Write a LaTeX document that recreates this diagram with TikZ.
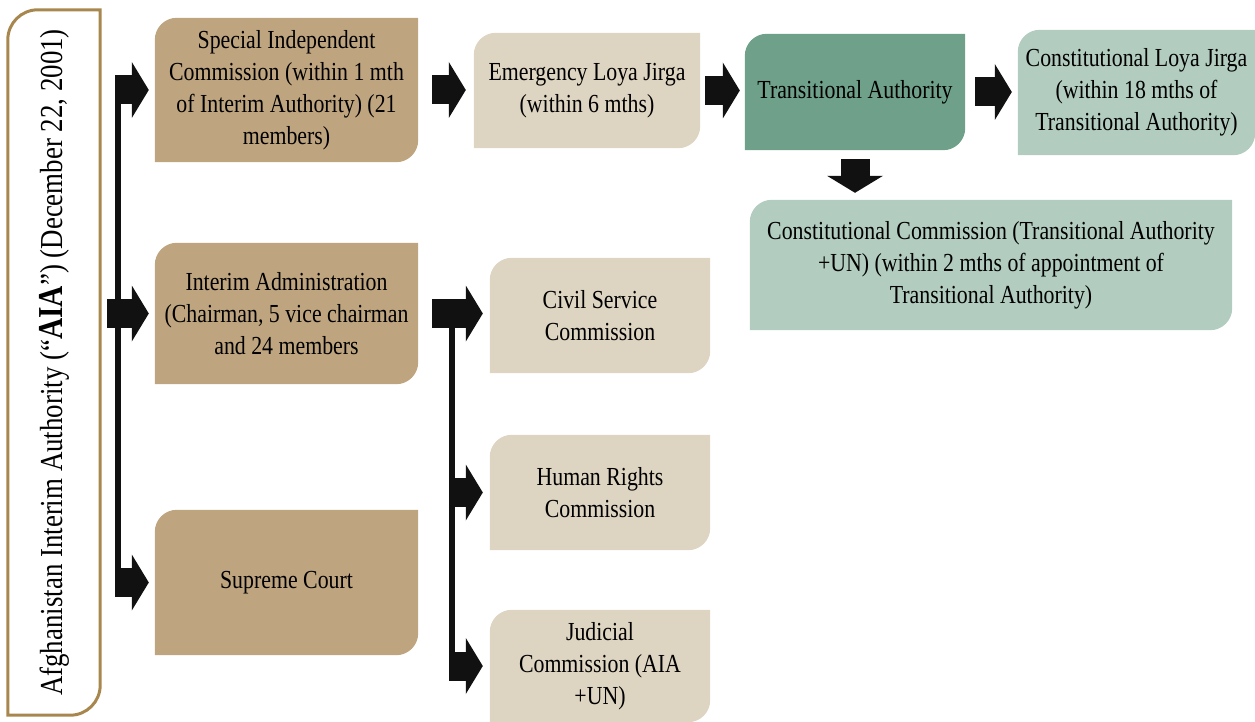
\documentclass[tikz,border=0pt]{standalone}
\usepackage{fontspec}
\setmainfont{Liberation Serif}[FakeStretch=0.84]
\usepackage{graphicx}
\usetikzlibrary{arrows.meta}
\usetikzlibrary{backgrounds}

\definecolor{tanbox}{HTML}{BFA57F}
\definecolor{beigebox}{HTML}{DDD4C1}
\definecolor{darkgreenbox}{HTML}{6EA08A}
\definecolor{palegreenbox}{HTML}{B2CDC0}
\definecolor{aiabrown}{HTML}{A8874F}
\definecolor{arrowblack}{HTML}{111111}

\newcommand\boxfont{\fontsize{26pt}{32pt}\selectfont}
\newcommand\diagshape[3][22pt]{%
  \path[#3] (#2.south west) -- ([yshift=-#1]#2.north west)
    arc[start angle=180,end angle=90,radius=#1] -- (#2.north east)
    -- ([yshift=#1]#2.south east)
    arc[start angle=0,end angle=-90,radius=#1] -- cycle;}

\begin{document}
\begin{tikzpicture}[x=1pt,y=1pt,
    org/.style={inner sep=0pt,align=center,font=\boxfont,text=black},
    blockarrow/.style={line width=29pt,color=arrowblack,
      -{Triangle[width=56pt,length=17pt,line width=0pt]}},
    barline/.style={line width=6pt,draw=arrowblack}]
  \useasboundingbox (0,0) rectangle (1255,-722);

  \node[org,minimum width=92pt,minimum height=705pt] (aia) at (54,-362.5)
    {\rotatebox{90}{\fontsize{32pt}{36pt}\selectfont Afghanistan Interim Authority (“{\bfseries\fontsize{35pt}{36pt}\selectfont AIA}”) (December 22, 2001)}};

  \node[org,minimum width=263pt,minimum height=144pt] (sic) at (286.5,-90)
    {Special Independent\\Commission (within 1 mth\\of Interim Authority) (21\\members)};
  \node[org,minimum width=226pt,minimum height=115pt] (elj) at (587,-90.5)
    {Emergency Loya Jirga\\(within 6 mths)};
  \node[org,minimum width=220pt,minimum height=116pt] (ta) at (855,-92)
    {Transitional Authority};
  \node[org,minimum width=237pt,minimum height=125pt] (clj) at (1136.5,-92.5)
    {Constitutional Loya Jirga\\(within 18 mths of\\Transitional Authority)};
  \node[org,minimum width=482pt,minimum height=130pt] (cc) at (991,-265)
    {Constitutional Commission (Transitional Authority\\+UN) (within 2 mths of appointment of\\Transitional Authority)};

  \node[org,minimum width=263pt,minimum height=141pt] (ia) at (286.5,-313.5)
    {Interim Administration\\(Chairman, 5 vice chairman\\and 24 members};
  \node[org,minimum width=263pt,minimum height=145pt] (sc) at (286.5,-582.5)
    {Supreme Court};

  \node[org,minimum width=220pt,minimum height=115pt] (csc) at (600,-315.5)
    {Civil Service\\Commission};
  \node[org,minimum width=220pt,minimum height=115pt] (hrc) at (600,-492.5)
    {Human Rights\\Commission};
  \node[org,minimum width=220pt,minimum height=112pt] (jc) at (600,-666)
    {Judicial\\Commission (AIA\\+UN)};

  \coordinate (lbar) at (115,0);
  \coordinate (lbarmid) at (107,0);
  \coordinate (lbarc) at (118,0);
  \coordinate (rbar) at (449,0);
  \coordinate (rbarc) at (452,0);

  \begin{scope}[on background layer]
    \diagshape[30pt]{aia}{draw=aiabrown,line width=3pt}
    \diagshape{sic}{fill=tanbox}
    \diagshape{ia}{fill=tanbox}
    \diagshape{sc}{fill=tanbox}
    \diagshape{elj}{fill=beigebox}
    \diagshape{csc}{fill=beigebox}
    \diagshape{hrc}{fill=beigebox}
    \diagshape{jc}{fill=beigebox}
    \diagshape{ta}{fill=darkgreenbox}
    \diagshape{clj}{fill=palegreenbox}
    \diagshape{cc}{fill=palegreenbox}
  \end{scope}

  \draw[barline] (sic.west -| lbarc) -- (sc.west -| lbarc);
  \draw[barline] (ia.east -| rbarc) -- (jc.west -| rbarc);

  \path[blockarrow]
    (sic.west -| lbar) edge[shorten >=6pt] (sic.west)
    (ia.west -| lbarmid) edge[shorten >=6pt] (ia.west)
    (sc.west -| lbar) edge[shorten >=6pt] (sc.west)
    (sic.east) edge[shorten <=14pt,shorten >=8pt] (sic.east -| elj.west)
    (elj.east) edge[shorten <=5pt,shorten >=5pt] (elj.east -| ta.west)
    (ta.east) edge[shorten <=10pt,shorten >=6pt] (ta.east -| clj.west)
    (ta.south) edge[shorten <=9pt,shorten >=7pt] (ta.south |- cc.north)
    (ia.east) edge[shorten <=14pt,shorten >=7pt] (ia.east -| csc.west)
    (hrc.west -| rbar) edge[shorten >=7pt] (hrc.west)
    (jc.west -| rbar) edge[shorten >=7pt] (jc.west);
\end{tikzpicture}
\end{document}
